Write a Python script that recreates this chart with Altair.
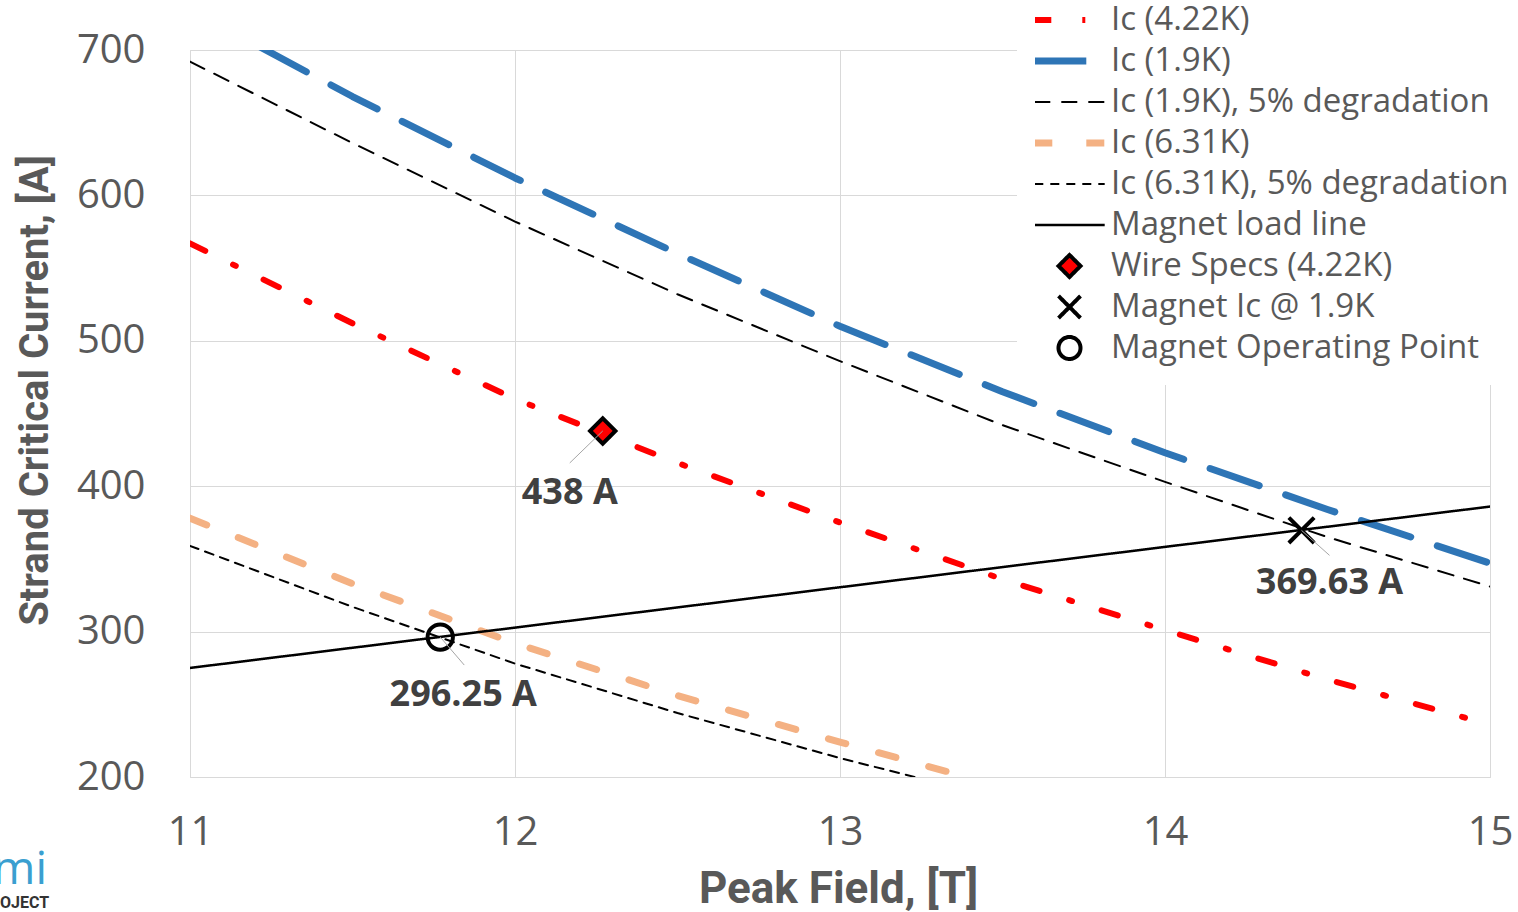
import altair as alt
import pandas as pd

# Peak field grid [T] and strand critical currents [A]
field_T = [11, 11.5, 12, 12.5, 13, 13.5, 14, 14.5, 15]
ic_422K = [567, 512, 460, 416, 375, 336, 301, 267, 236]
ic_19K = [728, 668, 612, 560, 510, 465, 423, 384, 347]
ic_19K_deg = [692, 636, 582, 532, 486, 442, 403, 365, 331]

field_631K = [11, 11.5, 12, 12.5, 13, 13.39]
ic_631K = [378, 333, 292, 256, 224, 200]
field_631K_deg = [11, 11.5, 12, 12.5, 13, 13.23]
ic_631K_deg = [359, 317, 278, 244, 213, 200]

load_field = [11, 15]
load_ic = [275, 386]

series_names = [
    "Ic (4.22K)",
    "Ic (1.9K)",
    "Ic (1.9K), 5% degradation",
    "Ic (6.31K)",
    "Ic (6.31K), 5% degradation",
    "Magnet load line",
    "Wire Specs (4.22K)",
    "Magnet Ic @ 1.9K",
    "Magnet Operating Point",
]

# Marked points and their labels
point_field = [12.27, 14.42, 11.77]
point_ic = [438, 369.63, 296.25]
point_labels = ["438 A", "369.63 A", "296.25 A"]

# Styling per series (same order as series_names)
stroke_colors = ["#ff0000", "#2e75b6", "#000000", "#f4b183", "#000000",
                 "#000000", "#000000", "#000000", "#000000"]
fill_colors = ["transparent"] * 6 + ["#ff0000", "transparent", "transparent"]
dash_styles = [[17, 31, 3, 31], [52, 28], [16, 11], [18, 34], [9, 7],
               [1, 0], [1, 0], [1, 0], [1, 0]]
stroke_widths = [6, 7, 2, 7, 2, 2.5, 4, 4, 4]
LINE_SYMBOL = "M-3.2,0H3.2"
X_SYMBOL = "M-1,-1L1,1M-1,1L1,-1"
shapes = [LINE_SYMBOL] * 6 + ["diamond", X_SYMBOL, "circle"]

# ---- tables ----
curve_sets = [
    (series_names[0], field_T, ic_422K),
    (series_names[1], field_T, ic_19K),
    (series_names[2], field_T, ic_19K_deg),
    (series_names[3], field_631K, ic_631K),
    (series_names[4], field_631K_deg, ic_631K_deg),
    (series_names[5], load_field, load_ic),
]
rows = []
for name, xs, ys in curve_sets:
    for b, i in zip(xs, ys):
        rows.append({"series": name, "B": b, "I": i})
lines_df = pd.DataFrame(rows)

points_df = pd.DataFrame({
    "series": series_names[6:],
    "B": point_field,
    "I": point_ic,
    "label": point_labels,
})

TEXT_GRAY = "#595959"
TICK_FONT = "Open Sans"
TITLE_FONT = "Roboto"

legend = alt.Legend(
    title=None,
    orient="none",
    legendX=827,
    legendY=-67,
    fillColor="white",
    padding=18,
    symbolSize=484,
    symbolOffset=18,
    clipHeight=38,
    labelOffset=25,
    labelFont=TICK_FONT,
    labelFontSize=33,
    labelColor=TEXT_GRAY,
    labelLimit=700,
    rowPadding=3,
)

x_scale = alt.Scale(domain=[11, 15], nice=False, zero=False)
y_scale = alt.Scale(domain=[200, 700], nice=False, zero=False)

x_axis = alt.Axis(
    values=[11, 12, 13, 14, 15], format="d", title="Peak Field, [T]",
    ticks=False, tickSize=0, domain=False, labelPadding=35, labelFlush=False,
    labelFont=TICK_FONT, labelFontSize=40, labelColor=TEXT_GRAY,
    titleFont=TITLE_FONT, titleFontSize=44, titleFontWeight="bold",
    titleColor=TEXT_GRAY, titleX=648, titleY=125,
    titleAlign="center", titleBaseline="alphabetic",
)
y_axis = alt.Axis(
    values=[200, 300, 400, 500, 600, 700], format="d",
    title="Strand Critical Current, [A]",
    ticks=False, tickSize=0, domain=False, labelPadding=45, labelFlush=False,
    labelFont=TICK_FONT, labelFontSize=40, labelColor=TEXT_GRAY,
    titleFont=TITLE_FONT, titleFontSize=40, titleFontWeight="bold",
    titleColor=TEXT_GRAY, titleX=-143, titleY=340, titleAngle=-90,
    titleAlign="center", titleBaseline="alphabetic",
)

stroke_enc = alt.Stroke("series:N", scale=alt.Scale(domain=series_names, range=stroke_colors), legend=legend)
width_enc = alt.StrokeWidth("series:N", scale=alt.Scale(type="ordinal", domain=series_names, range=stroke_widths), legend=legend)
dash_enc = alt.StrokeDash("series:N", scale=alt.Scale(domain=series_names, range=dash_styles), legend=legend)
shape_enc = alt.Shape("series:N", scale=alt.Scale(domain=series_names, range=shapes), legend=legend)
fill_enc = alt.Fill("series:N", scale=alt.Scale(domain=series_names, range=fill_colors), legend=legend)

x_enc = alt.X("B:Q", scale=x_scale, axis=x_axis)
y_enc = alt.Y("I:Q", scale=y_scale, axis=y_axis)

curves = alt.Chart(lines_df).mark_line(
    clip=True, strokeCap="round", strokeJoin="round"
).encode(x=x_enc, y=y_enc, stroke=stroke_enc, strokeWidth=width_enc, strokeDash=dash_enc)

markers = alt.Chart(points_df).mark_point(
    filled=True, opacity=1, size=640
).encode(x=x_enc, y=y_enc, shape=shape_enc, fill=fill_enc, stroke=stroke_enc, strokeWidth=width_enc)

# leader lines and value labels, one per marked point
label_offsets = {"438 A": (-33, 62), "369.63 A": (28, 53), "296.25 A": (23, 58)}
leader_ends = {"438 A": (-33, 32), "369.63 A": (28, 25), "296.25 A": (24, 28)}

annotations = []
for lab in point_labels:
    sub = alt.Chart(points_df).transform_filter(alt.datum.label == lab)
    lx, ly = leader_ends[lab]
    annotations.append(
        sub.mark_rule(color="#a6a6a6", strokeWidth=1, x2Offset=lx, y2Offset=ly).encode(
            x="B:Q", y="I:Q", x2="B:Q", y2="I:Q"
        )
    )
    dx, dy = label_offsets[lab]
    annotations.append(
        sub.mark_text(
            dx=dx, dy=dy, font=TICK_FONT, fontSize=36, fontWeight="bold",
            color="#404040", align="center", baseline="middle"
        ).encode(x="B:Q", y="I:Q", text="label:N")
    )

# project logo lettering in the lower-left corner
logo_mi = alt.Chart(pd.DataFrame({"t": ["mi"]})).mark_text(
    font="Open Sans", fontSize=46, color="#3a9fd0", align="right", baseline="alphabetic"
).encode(x=alt.value(-143), y=alt.value(834), text="t:N")
logo_word = alt.Chart(pd.DataFrame({"t": ["OJECT"]})).mark_text(
    font="Roboto", fontSize=16, fontWeight="bold", color="#333333", align="left", baseline="alphabetic"
).encode(x=alt.value(-190), y=alt.value(858), text="t:N")

chart = alt.layer(curves, markers, *annotations, logo_mi, logo_word).properties(
    width=1300,
    height=727,
    autosize=alt.AutoSizeParams(type="none"),
    padding={"left": 190, "top": 50, "right": 28, "bottom": 135},
    background="white",
).configure_view(
    stroke="#d9d9d9", strokeWidth=1
).configure_axis(
    gridColor="#d9d9d9", gridWidth=1
)

chart.save("out.html", embed_options={"renderer": "svg", "actions": False})
